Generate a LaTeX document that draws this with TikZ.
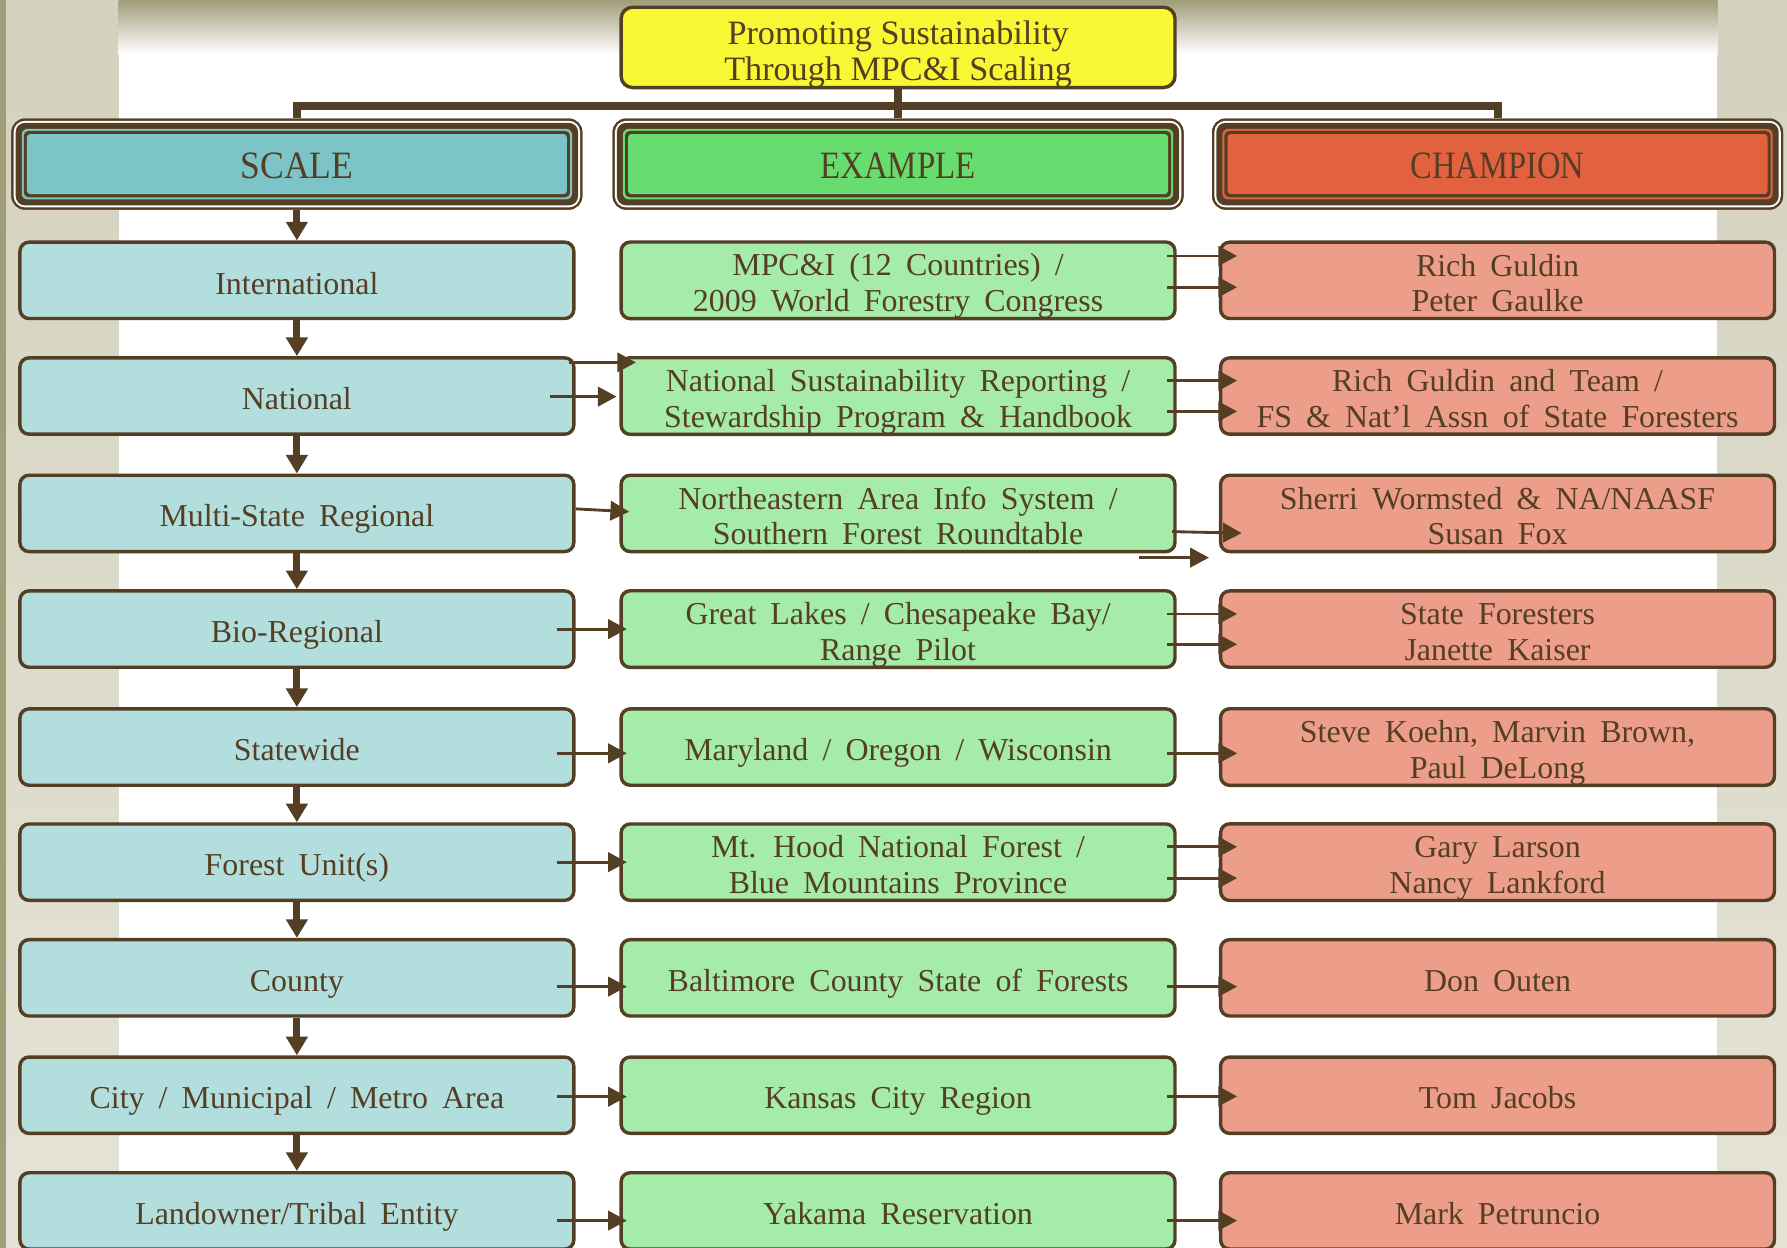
\documentclass[tikz,border=0pt]{standalone}
\usepackage{fontspec}
\usepackage{graphicx}
\setmainfont{Liberation Serif}
\usetikzlibrary{arrows.meta,calc}
\definecolor{brn}{RGB}{84,62,36}
\definecolor{olv}{RGB}{161,157,121}
\definecolor{bgtop}{RGB}{212,210,190}
\definecolor{bgbot}{RGB}{228,227,214}
\definecolor{ylw}{RGB}{247,247,51}
\definecolor{hteal}{RGB}{124,196,200}
\definecolor{hgreen}{RGB}{102,221,110}
\definecolor{hred}{RGB}{226,97,63}
\definecolor{lteal}{RGB}{179,222,222}
\definecolor{lgreen}{RGB}{165,235,169}
\definecolor{lred}{RGB}{236,158,138}
\newcommand\bodyfont{\fontsize{14}{15.7}\selectfont\spaceskip=6.2pt plus 2pt minus 1pt\relax}
\newcommand\titlefont{\fontsize{15}{15.8}\selectfont}
\newcommand\ftop{\rule{0pt}{14.9pt}}
\newcommand\fbot{\rule[-2.9pt]{0pt}{0pt}}
\newcommand\hdrlayers[2]{%
  \fill[white, rounded corners=5pt] ([shift={(2.4,2.4)}]#1.north west) rectangle ([shift={(-2.4,-2.4)}]#1.south east);
  \fill[brn, rounded corners=4pt] ([shift={(4.2,4.2)}]#1.north west) rectangle ([shift={(-4.2,-4.2)}]#1.south east);
  \fill[#2, rounded corners=2.5pt] ([shift={(9.5,9.5)}]#1.north west) rectangle ([shift={(-9.5,-9.5)}]#1.south east);
  \fill[brn, rounded corners=2pt] ([shift={(11.3,11.3)}]#1.north west) rectangle ([shift={(-11.3,-11.3)}]#1.south east);
  \fill[#2, rounded corners=1.5pt] ([shift={(14,14)}]#1.north west) rectangle ([shift={(-14,-14)}]#1.south east);
}
\newcommand\arrLM[3]{\draw[harr] ([shift={(-16.5,#3)}]#1.east) -- ([shift={(6.5,#3)}]#2.west);}
\newcommand\arrMR[3]{\draw[harr] ([shift={(-8.3,#3)}]#1.east) -- ([shift={(16,#3)}]#2.west);}
\begin{document}
\begin{tikzpicture}[x=0.5pt,y=-0.5pt,
  bx/.style={draw=brn, line width=1.5pt, rounded corners=4pt, minimum width=243pt, minimum height=33.5pt, inner sep=0pt, align=center, text=brn, font=\bodyfont},
  sbx/.style={bx, fill=lteal},
  ebx/.style={bx, fill=lgreen},
  cbx/.style={bx, fill=lred},
  harr/.style={draw=brn, line width=1.25pt, -{Triangle[length=8.2pt,width=8.5pt]}},
  varr/.style={draw=brn, line width=3pt, -{Triangle[length=8.2pt,width=9.2pt]}},
  conn/.style={draw=brn, line width=3.5pt},
  hdr/.style={fill=brn, rounded corners=6pt, minimum width=250.5pt, minimum height=40pt, inner sep=0pt},
  hdrtxt/.style={text=brn, font=\fontsize{17}{20}\selectfont, inner sep=0pt, yshift=-0.75pt},
]
\useasboundingbox (0,0) rectangle (1568,1095);
\clip (0,0) rectangle (1568,1095);
% background
\fill[white] (0,0) rectangle (1568,1095);
\shade[top color=bgtop, bottom color=bgbot] (5,0) rectangle (104,1095);
\fill[olv] (0,0) rectangle (5,1095);
\shade[top color=bgtop, bottom color=bgbot] (1507,0) rectangle (1568,1095);
\shade[top color=olv, bottom color=white] (104,0) rectangle (1507,48);

% title
\node[draw=brn, line width=1.5pt, fill=ylw, rounded corners=5pt, minimum width=243pt, minimum height=34.4pt, inner sep=0pt, align=center, text=brn, font=\titlefont] (T) at (788,41.6)
  {\rule{0pt}{16.2pt}Promoting Sustainability\\Through MPC\&I Scaling};

% headers
\node[hdr] (HS) at (260.5,144) {};
\node[hdr] (HE) at (788,144) {};
\node[hdr] (HC) at (1314,144) {};
\coordinate (J) at (788,93);
\draw[conn] (T.south) -- (HE.north);
\draw[conn] (HS.north) -- (HS.north |- J) -- (HC.north |- J) -- (HC.north);
\node[hdr] at (HS.center) {};
\node[hdr] at (HE.center) {};
\node[hdr] at (HC.center) {};
\hdrlayers{HS}{hteal}
\hdrlayers{HE}{hgreen}
\hdrlayers{HC}{hred}
\node[hdrtxt] at (HS.center) {\scalebox{0.92}[1]{SCALE}};
\node[hdrtxt] at (HE.center) {\scalebox{0.85}[1]{EXAMPLE}};
\node[hdrtxt] at (HC.center) {\scalebox{0.84}[1]{CHAMPION}};

% scale column
\node[sbx] (L1) at (260.5,246) {\ftop International\fbot};
\node[sbx] (L2) at (260.5,347.5) {\ftop National\fbot};
\node[sbx] (L3) at (260.5,450.5) {\ftop Multi-State Regional\fbot};
\node[sbx] (L4) at (260.5,552) {\ftop Bio-Regional\fbot};
\node[sbx] (L5) at (260.5,655.5) {\ftop Statewide\fbot};
\node[sbx] (L6) at (260.5,756.5) {\ftop Forest Unit(s)\fbot};
\node[sbx] (L7) at (260.5,858) {\ftop County\fbot};
\node[sbx] (L8) at (260.5,961) {\ftop City / Municipal / Metro Area\fbot};
\node[sbx] (L9) at (260.5,1062.5) {\ftop Landowner/Tribal Entity\fbot};

% example column
\node[ebx] (M1) at (788,246) {\ftop MPC\&I (12 Countries) /\\2009 World Forestry Congress\fbot};
\node[ebx] (M2) at (788,347.5) {\ftop National Sustainability Reporting /\\Stewardship Program \& Handbook\fbot};
\node[ebx] (M3) at (788,450.5) {\ftop Northeastern Area Info System /\\Southern Forest Roundtable\fbot};
\node[ebx] (M4) at (788,552) {\ftop Great Lakes / Chesapeake Bay/\\Range Pilot\fbot};
\node[ebx] (M5) at (788,655.5) {\ftop Maryland / Oregon / Wisconsin\fbot};
\node[ebx] (M6) at (788,756.5) {\ftop Mt. Hood National Forest /\\Blue Mountains Province\fbot};
\node[ebx] (M7) at (788,858) {\ftop Baltimore County State of Forests\fbot};
\node[ebx] (M8) at (788,961) {\ftop Kansas City Region\fbot};
\node[ebx] (M9) at (788,1062.5) {\ftop Yakama Reservation\fbot};

% champion column
\node[cbx] (R1) at (1314,246) {\ftop Rich Guldin\\Peter Gaulke\fbot};
\node[cbx] (R2) at (1314,347.5) {\ftop Rich Guldin and Team /\\FS \& Nat'l Assn of State Foresters\fbot};
\node[cbx] (R3) at (1314,450.5) {\ftop Sherri Wormsted \& NA/NAASF\\Susan Fox\fbot};
\node[cbx] (R4) at (1314,552) {\ftop State Foresters\\Janette Kaiser\fbot};
\node[cbx] (R5) at (1314,655.5) {\ftop Steve Koehn, Marvin Brown,\\Paul DeLong\fbot};
\node[cbx] (R6) at (1314,756.5) {\ftop Gary Larson\\Nancy Lankford\fbot};
\node[cbx] (R7) at (1314,858) {\ftop Don Outen\fbot};
\node[cbx] (R8) at (1314,961) {\ftop Tom Jacobs\fbot};
\node[cbx] (R9) at (1314,1062.5) {\ftop Mark Petruncio\fbot};

% vertical arrows
\draw[varr] (HS.south) -- (L1.north);
\foreach \a/\b in {L1/L2,L2/L3,L3/L4,L4/L5,L5/L6,L6/L7,L7/L8,L8/L9}
  \draw[varr] (\a.south) -- (\b.north);

% row 1
\arrMR{M1}{R1}{-21.4}
\arrMR{M1}{R1}{6}
% row 2
\draw[harr] ([shift={(-5.5,-29.5)}]L2.east) -- ([shift={(14.5,-29.5)}]M2.west);
\draw[harr] ([shift={(-22.5,0.5)}]L2.east) -- ([shift={(-2.5,0.5)}]M2.west);
\arrMR{M2}{R2}{-13.5}
\arrMR{M2}{R2}{13.5}
% row 3
\draw[harr] ([shift={(0.1,-4)}]L3.east) -- ([shift={(8.5,-1.5)}]M3.west);
\draw[harr] ([shift={(-4,16)}]M3.east) -- ([shift={(20,17.3)}]R3.west);
\coordinate (s1) at ([shift={(-33,38.8)}]M3.east);
\coordinate (s2) at ([shift={(28.2,38.8)}]M3.east);
\draw[harr] (s1) -- (s2);
% row 4
\arrLM{L4}{M4}{0}
\arrMR{M4}{R4}{-13.3}
\arrMR{M4}{R4}{13.3}
% row 5
\arrLM{L5}{M5}{5.5}
\arrMR{M5}{R5}{5.5}
% row 6
\arrLM{L6}{M6}{0}
\arrMR{M6}{R6}{-13.5}
\arrMR{M6}{R6}{14}
% row 7
\arrLM{L7}{M7}{7.7}
\arrMR{M7}{R7}{7.7}
% row 8
\arrLM{L8}{M8}{1.3}
\arrMR{M8}{R8}{1}
% row 9
\arrLM{L9}{M9}{8.5}
\arrMR{M9}{R9}{8.5}
\end{tikzpicture}
\end{document}
